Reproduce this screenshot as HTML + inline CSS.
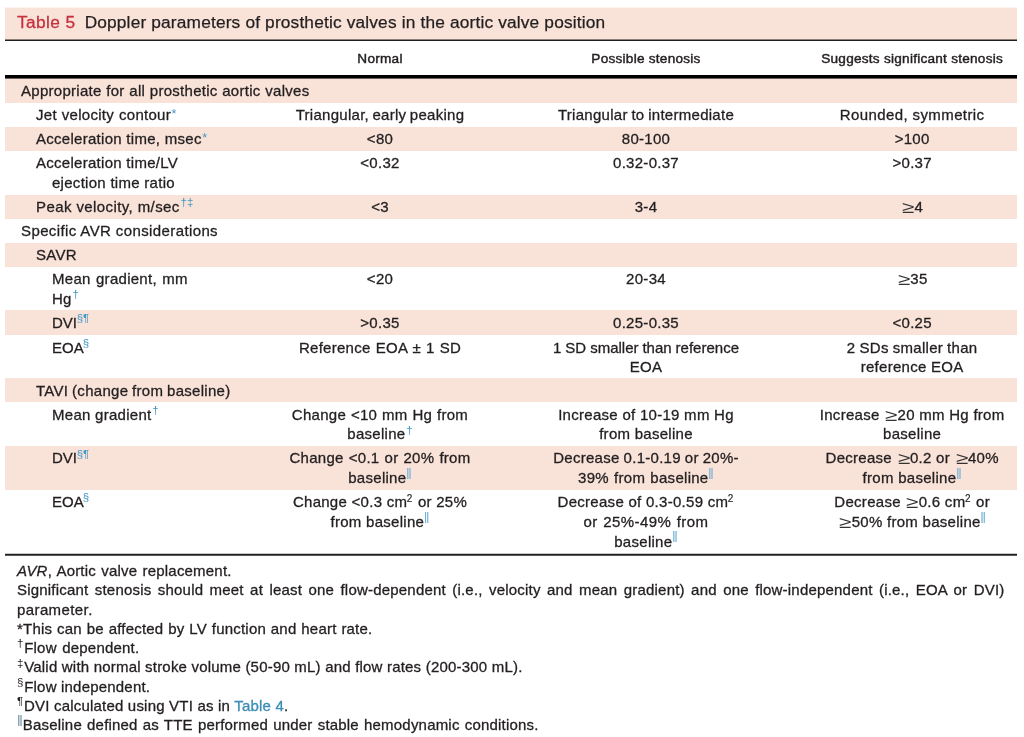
<!DOCTYPE html>
<html lang="en">
<head>
<meta charset="utf-8">
<title>Table 5 Doppler parameters of prosthetic valves in the aortic valve position</title>
<style>
html,body{margin:0;padding:0;background:#fff;}
body{width:1024px;height:737px;position:relative;overflow:hidden;font-family:"Liberation Sans",Arial,Helvetica,sans-serif;color:#231f20;}
#wrap{position:absolute;left:5px;top:7.5px;width:1012.3px;}
.title{box-shadow:0 -1px 0 #fcf1ec;height:33.5px;background:linear-gradient(to top,#231f20 0,#231f20 1px,#8e817c 1px,#8e817c 2px,#f9e3d9 2px);box-sizing:border-box;font-size:17.3px;letter-spacing:0.17px;-webkit-text-stroke-width:0.25px;line-height:29.2px;padding-left:12px;white-space:nowrap;}
.title b{color:#c5313d;font-weight:normal;margin-right:9.1px;letter-spacing:0.4px;-webkit-text-stroke-width:0.3px;}
table{border-collapse:separate;border-spacing:0;table-layout:fixed;width:1012.3px;}
col.c1{width:242px}col.c2{width:266px}col.c3{width:266px}col.c4{width:238.3px}
th{height:38px;box-sizing:border-box;padding-bottom:4px !important;background:linear-gradient(to top,#6a605c 0,#6a605c 1px,#000 1px,#000 4px,rgba(0,0,0,0) 4px);font-size:13.6px;font-weight:normal;-webkit-text-stroke-width:0.45px;text-align:center;padding:1.2px 0 0 0;white-space:nowrap;letter-spacing:0.25px;}
th:last-child,td:last-child{padding-left:28px}
td{font-size:15px;letter-spacing:0.28px;-webkit-text-stroke-width:0.3px;line-height:19.8px;padding:2.4px 0 1.8px 0;text-align:center;vertical-align:top;white-space:nowrap;}
td:first-child{text-align:left;}
tr.p td{background:#f9e3d9;}
td.l0{padding-left:16px}
td.l1{padding-left:31px}
td.l2{padding-left:47px}
.hang{padding-left:16px}
.ge{display:inline-block;line-height:0;color:#333;transform:scale(1.5,1.12);transform-origin:50% 65%;margin:0 1.8px 0 3.2px;-webkit-text-stroke:0;}
sup{color:#4197c4;font-size:11.5px;line-height:0;vertical-align:baseline;position:relative;top:-5.7px;-webkit-text-stroke:0;letter-spacing:0;margin-left:0.8px}
sup.a{font-size:12.5px;top:-2.3px;margin-left:0.6px}
sup.b{font-size:14px;top:-4.3px;color:#6fb0d4;margin-left:-0.4px}
sup.k{font-size:10px;top:-5.2px;color:#231f20 !important;margin-left:-0.5px;margin-right:1.1px;-webkit-text-stroke-width:0.15px}
tr.last td{padding-bottom:2.2px}
tr.dv td{padding-bottom:2.6px}
tr.eo td{padding-bottom:1.0px}
.bline{position:absolute;left:0;top:545.5px;width:1012.3px;height:3px;background:linear-gradient(to bottom,#c9c8c8 0,#c9c8c8 1px,#231f20 1px,#231f20 2px,#5a5758 2px,#5a5758 3px);}
.foot{position:absolute;top:553.5px;left:0;padding-left:12px;font-size:15px;letter-spacing:0.2px;-webkit-text-stroke-width:0.3px;line-height:19.25px;width:987.5px;}
.foot p{margin:0;}
.foot p.j{text-align:justify;text-align-last:left;}
.foot sup{color:#231f20;margin-left:0;margin-right:0.8px}
.foot sup.b{color:#6d8fa3;margin-right:0px}
.foot a{color:#3b8db5;text-decoration:none}
</style>
</head>
<body>
<div id="wrap">
<div class="title"><b>Table 5</b>Doppler parameters of prosthetic valves in the aortic valve position</div>
<table>
<colgroup><col class="c1"><col class="c2"><col class="c3"><col class="c4"></colgroup>
<thead>
<tr><th></th><th>Normal</th><th>Possible stenosis</th><th>Suggests significant stenosis</th></tr>
</thead>
<tbody>
<tr class="p"><td class="l0"><span style="word-spacing:0.2px">Appropriate for all prosthetic aortic valves</span></td><td></td><td></td><td></td></tr>
<tr><td class="l1"><span style="word-spacing:0.5px">Jet velocity contour</span><sup class="a">*</sup></td><td><span style="word-spacing:-1px">Triangular, early peaking</span></td><td><span style="word-spacing:-0.75px">Triangular to intermediate</span></td><td><span style="letter-spacing:0.39px">Rounded, symmetric</span></td></tr>
<tr class="p"><td class="l1"><span style="word-spacing:0px">Acceleration time, msec</span><sup class="a">*</sup></td><td>&lt;80</td><td>80-100</td><td>&gt;100</td></tr>
<tr><td class="l1">Acceleration time/LV<br><span class="hang">ejection time ratio</span></td><td>&lt;0.32</td><td>0.32-0.37</td><td>&gt;0.37</td></tr>
<tr class="p"><td class="l1"><span style="letter-spacing:0.405px">Peak velocity, m/sec</span><sup>†‡</sup></td><td>&lt;3</td><td>3-4</td><td><span class="ge">≥</span>4</td></tr>
<tr><td class="l0"><span style="letter-spacing:0.39px">Specific AVR considerations</span></td><td></td><td></td><td></td></tr>
<tr class="p"><td class="l1">SAVR</td><td></td><td></td><td></td></tr>
<tr><td class="l2"><span style="word-spacing:0.9px">Mean gradient, mm</span><br>Hg<sup>†</sup></td><td>&lt;20</td><td>20-34</td><td><span class="ge">≥</span>35</td></tr>
<tr class="p dv"><td class="l2"><span style="letter-spacing:0">DVI</span><sup style="margin-left:-0.3px">§¶</sup></td><td>&gt;0.35</td><td>0.25-0.35</td><td>&lt;0.25</td></tr>
<tr class="eo"><td class="l2"><span style="letter-spacing:0.05px">EOA</span><sup style="margin-left:-1.2px">§</sup></td><td><span style="word-spacing:0.6px">Reference EOA ± 1 SD</span></td><td><span style="letter-spacing:0;word-spacing:-0.2px">1 SD smaller than reference</span><br>EOA</td><td><span style="word-spacing:-0.4px">2 SDs smaller than</span><br>reference EOA</td></tr>
<tr class="p"><td class="l1"><span style="word-spacing:-0.6px">TAVI (change from baseline)</span></td><td></td><td></td><td></td></tr>
<tr><td class="l2">Mean gradient<sup>†</sup></td><td><span style="word-spacing:0.4px">Change &lt;10 mm Hg from</span><br>baseline<sup>†</sup></td><td>Increase of 10-19 mm Hg<br>from baseline</td><td>Increase <span class="ge">≥</span>20 mm Hg from<br>baseline</td></tr>
<tr class="p"><td class="l2"><span style="letter-spacing:0">DVI</span><sup style="margin-left:-0.3px">§¶</sup></td><td><span style="word-spacing:0.6px">Change &lt;0.1 or 20% from</span><br>baseline<sup class="b">‖</sup></td><td><span style="word-spacing:-0.5px">Decrease 0.1-0.19 or 20%-</span><br><span style="word-spacing:0.7px">39% from baseline</span><sup class="b">‖</sup></td><td>Decrease <span class="ge">≥</span>0.2 or <span class="ge">≥</span>40%<br>from baseline<sup class="b">‖</sup></td></tr>
<tr class="last"><td class="l2"><span style="letter-spacing:0.05px">EOA</span><sup style="margin-left:-1.2px">§</sup></td><td>Change &lt;0.3 cm<sup class="k">2</sup> or 25%<br>from baseline<sup class="b">‖</sup></td><td>Decrease of 0.3-0.59 cm<sup class="k">2</sup><br><span style="word-spacing:0.8px;letter-spacing:0.44px">or 25%-49% from</span><br>baseline<sup class="b">‖</sup></td><td>Decrease <span class="ge">≥</span>0.6 cm<sup class="k">2</sup> or<br><span class="ge">≥</span>50% from baseline<sup class="b">‖</sup></td></tr>
</tbody>
</table>
<div class="bline"></div>
<div class="foot">
<p><i>AVR</i><span style="word-spacing:0.9px">, Aortic valve replacement.</span></p>
<p class="j">Significant stenosis should meet at least one flow-dependent (i.e., velocity and mean gradient) and one flow-independent (i.e., EOA or DVI) <span style="letter-spacing:0.4px">parameter.</span></p>
<p><span style="word-spacing:0.5px">*This can be affected by LV function and heart rate.</span></p>
<p><sup>†</sup><span style="word-spacing:1.2px">Flow dependent.</span></p>
<p><sup>‡</sup>Valid with normal stroke volume (50-90 mL) and flow rates (200-300 mL).</p>
<p><sup>§</sup>Flow independent.</p>
<p><sup>¶</sup>DVI calculated using VTI as in <a>Table 4</a>.</p>
<p><sup class="b">‖</sup><span style="word-spacing:0.75px">Baseline defined as TTE performed under stable hemodynamic conditions.</span></p>
</div>
</div>
</body>
</html>
